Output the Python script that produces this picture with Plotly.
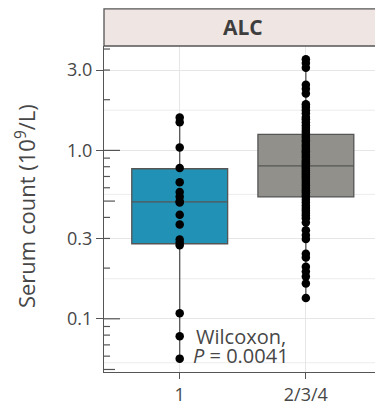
import plotly.graph_objects as go

# ---- data -------------------------------------------------------------
groups = ["1", "2/3/4"]

alc_group1 = [1.57, 1.47, 1.04, 0.785, 0.647, 0.566, 0.531, 0.497, 0.49,
              0.415, 0.363, 0.296, 0.283, 0.273, 0.108, 0.0788, 0.058]

alc_group234 = [3.48, 3.30, 3.10, 2.45, 2.32, 2.18,
                1.88, 1.81, 1.73, 1.66, 1.58, 1.53, 1.47, 1.41, 1.36, 1.31,
                1.27, 1.22, 1.19, 1.15, 1.12, 1.08, 1.05, 1.02, 0.99, 0.97,
                0.94, 0.91, 0.88, 0.86, 0.84, 0.82, 0.80, 0.78, 0.76, 0.74,
                0.72, 0.70, 0.68, 0.66, 0.64, 0.62, 0.60, 0.58, 0.565, 0.545,
                0.53, 0.51, 0.49, 0.47, 0.455, 0.44, 0.425, 0.41, 0.395, 0.373,
                0.336, 0.314, 0.298, 0.243, 0.231, 0.204, 0.191, 0.178, 0.162,
                0.133]

# box summaries (q1, median, q3, whisker ends) per group
box_q1 = [0.279, 0.529]
box_median = [0.494, 0.81]
box_q3 = [0.778, 1.245]
box_low = [0.058, 0.133]
box_high = [1.57, 3.48]
box_fill = ["#2192b5", "#91908b"]

y_breaks = [0.1, 0.3, 1.0, 3.0]
y_break_labels = ["0.1", "0.3", "1.0", "3.0"]
y_minor_grid = [0.0548, 0.173, 0.548, 1.732]

log_ticks_short = [0.06, 0.07, 0.08, 0.09, 0.2, 0.3, 0.4, 0.6, 0.7, 0.8, 0.9,
                   2.0, 3.0, 4.0]
log_ticks_mid = [0.05, 0.5]
log_ticks_long = [0.1, 1.0]

test_name = "Wilcoxon,"
p_label = "<i>P</i> = 0.0041"

# ---- figure -----------------------------------------------------------
FONT = "'Open Sans', sans-serif"
TXT = "#474747"
AX = "#555555"
W, H = 375, 406
ML, MR, MT, MB = 104, 0, 46, 26
PW = W - ML - MR
PH = H - MT - MB


def py(px):
    """paper y for a pixel row measured from the top of the page"""
    return (H - MB - px) / PH


def px_(px):
    """paper x for a pixel column measured from the left of the page"""
    return (px - ML) / PW


fig = go.Figure()

for g, q1, md, q3, lo, hi, col in zip(groups, box_q1, box_median, box_q3,
                                      box_low, box_high, box_fill):
    fig.add_trace(go.Box(
        x=[g], q1=[q1], median=[md], q3=[q3], lowerfence=[lo], upperfence=[hi],
        fillcolor=col, line=dict(color=AX, width=1.3), whiskerwidth=0,
        width=0.76, boxpoints=False, showlegend=False, hoverinfo="skip",
    ))

for g, vals in zip(groups, [alc_group1, alc_group234]):
    fig.add_trace(go.Scatter(
        x=[g] * len(vals), y=vals, mode="markers",
        marker=dict(color="black", size=8.5, line=dict(width=0)),
        showlegend=False, hoverinfo="skip",
    ))

shapes = []
# minor horizontal grid
for v in y_minor_grid:
    shapes.append(dict(type="line", xref="paper", yref="y", x0=0, x1=1,
                       y0=v, y1=v, line=dict(color="#ececec", width=1),
                       layer="below"))

# log ticks along the left axis
for vals, ln in [(log_ticks_short, 6), (log_ticks_mid, 11), (log_ticks_long, 16)]:
    for v in vals:
        shapes.append(dict(type="line", xref="paper", yref="y", x0=0,
                           x1=ln / PW, y0=v, y1=v,
                           line=dict(color=AX, width=1.2), layer="above"))

# facet strip
strip_h = 38 / PH
shapes.append(dict(type="rect", xref="paper", yref="paper", x0=0, x1=1.2,
                   y0=1, y1=1 + strip_h, fillcolor="#efe5e2",
                   line=dict(color=AX, width=1.3), layer="above"))

fig.update_layout(
    width=W, height=H,
    margin=dict(l=ML, r=MR, t=MT, b=MB),
    paper_bgcolor="white", plot_bgcolor="white",
    boxmode="overlay",
    font=dict(family=FONT, color=TXT, size=18),
    shapes=shapes,
    xaxis=dict(
        type="category", categoryorder="array", categoryarray=groups,
        range=[-0.6, 1.548], showgrid=True, gridcolor="#e6e6e6", gridwidth=1,
        showline=True, linecolor=AX, linewidth=1.4,
        ticks="outside", ticklen=6, tickcolor=AX, tickwidth=1.2,
        tickfont=dict(size=18, color=TXT), zeroline=False,
    ),
    yaxis=dict(
        type="log", range=[-1.316, 0.620],
        tickvals=y_breaks, ticktext=y_break_labels,
        showgrid=True, gridcolor="#e6e6e6", gridwidth=1,
        showline=True, linecolor=AX, linewidth=1.4,
        ticks="outside", ticklen=7, tickcolor=AX, tickwidth=1.2,
        tickfont=dict(size=18, color=TXT), zeroline=False,
    ),
    annotations=[
        dict(text="<b>ALC</b>", xref="paper", yref="paper",
             x=px_(243), y=py(27), showarrow=False,
             font=dict(size=21, color="#3e3e3e"), xanchor="center",
             yanchor="middle"),
        dict(text="Serum count (10<sup>9</sup>/L)", xref="paper", yref="paper",
             x=px_(25), y=py(210), textangle=-90,
             showarrow=False, font=dict(size=22, color=TXT),
             xanchor="center", yanchor="middle"),
        dict(text=test_name, xref="paper", yref="paper",
             x=px_(241), y=py(344), showarrow=False,
             font=dict(size=20, color=TXT), xanchor="center",
             yanchor="middle"),
        dict(text=p_label, xref="paper", yref="paper",
             x=px_(241), y=py(363), showarrow=False,
             font=dict(size=20, color=TXT), xanchor="center",
             yanchor="middle"),
    ],
)

fig.write_html("out.html")
